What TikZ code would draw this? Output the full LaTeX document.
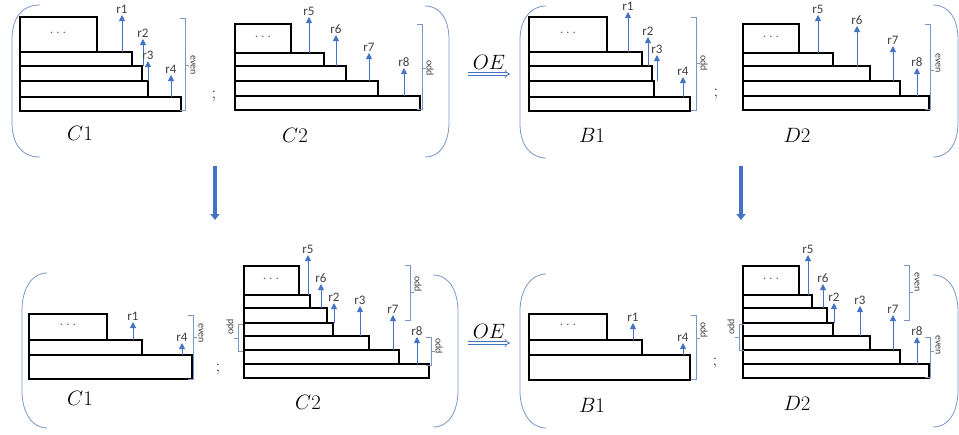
\documentclass[tikz,border=0pt]{standalone}
\usepackage{fontspec}
\setsansfont{Carlito}
\usetikzlibrary{arrows.meta}

\definecolor{arrblue}{HTML}{4472C4}
\definecolor{brkblue}{HTML}{7A97C9}
\definecolor{txtgray}{HTML}{404040}
\definecolor{dotgray}{HTML}{595959}

\tikzset{
  blk/.style={draw=black, line width=1.2pt},
  rarr/.style={draw=arrblue, line width=0.9pt, -{Triangle[width=6pt,length=6pt]}},
  rlbl/.style={above, inner sep=1pt, text=txtgray, font=\sffamily\fontsize{13}{13}\selectfont},
  brk/.style={draw=brkblue, line width=0.8pt},
  side/.style={inner sep=0pt, text=txtgray, font=\sffamily\fontsize{10}{10}\selectfont},
  nm/.style={font=\fontsize{20}{24}\selectfont},
  semi/.style={font=\fontsize{17}{17}\selectfont},
  dots/.style={text=dotgray, font=\fontsize{15}{15}\selectfont},
  down/.style={draw=arrblue, line width=3.5pt, -{Triangle[width=9pt,length=6pt]}},
  oe/.style={draw=arrblue, double, double distance=2pt, line width=0.7pt, -{Implies}}
}

\begin{document}
\begin{tikzpicture}[x=1pt,y=-1pt]
  \useasboundingbox (0,0) rectangle (959,434);

  % top left: C1 ; C2
  \draw[brk] (40,5) .. controls (20,5) and (12,20) .. (12,40) -- (12,122) .. controls (12,142) and (20,157) .. (40,157);
  \draw[brk] (425,6) .. controls (441,6) and (449,20) .. (449,40) -- (449,122) .. controls (449,142) and (441,157) .. (425,157);
  \draw[blk] (20,17) rectangle (97,52);
  \node[dots] (c1dots) at (58,33) {$\cdots$};
  \foreach \r/\t/\b in {132/52/66, 142/66/81, 148/81/97, 181/97/111}
    \draw[blk] (20,\t) rectangle (\r,\b);
  \foreach \x/\y/\h/\l in {122/52/15/r1, 143/66/39/r2, 148/81/61/r3, 171/97/75/r4}
    \draw[rarr] (\x,\y) -- (\x,\h) node[rlbl] {\l};
  \draw[blk] (235,24) rectangle (291,53);
  \node[dots] (c2dots) at (263,37) {$\cdots$};
  \foreach \r/\t/\b in {324/53/66, 346/66/81, 378/81/96, 420/96/110}
    \draw[blk] (235,\t) rectangle (\r,\b);
  \foreach \x/\y/\h/\l in {309/53/17/r5, 336/66/35/r6, 369/81/53/r7, 404/96/68/r8}
    \draw[rarr] (\x,\y) -- (\x,\h) node[rlbl] {\l};
  \node[semi] (semi1) at (214,96) {;};
  \node[nm] (c1) at (80,133) {$C1$};
  \node[nm] (c2) at (295,135) {$C2$};

  % top right: B1 ; D2
  \draw[brk] (546,6) .. controls (530,6) and (520,20) .. (520,40) -- (520,124) .. controls (520,144) and (530,158) .. (546,158);
  \draw[brk] (933,5) .. controls (950,5) and (958,20) .. (958,40) -- (958,122) .. controls (958,142) and (950,157) .. (933,157);
  \draw[blk] (529,17) rectangle (607,52);
  \node[dots] (b1dots) at (568,33) {$\cdots$};
  \foreach \r/\t/\b in {642/52/66, 652/66/81, 654/81/97, 690/97/111}
    \draw[blk] (529,\t) rectangle (\r,\b);
  \foreach \x/\y/\h/\l in {628/52/12/r1, 648/66/37/r2, 657/81/55/r3, 683/97/77/r4}
    \draw[rarr] (\x,\y) -- (\x,\h) node[rlbl] {\l};
  \draw[blk] (743,24) rectangle (799,53);
  \node[dots] (d2dots) at (771,37) {$\cdots$};
  \foreach \r/\t/\b in {833/53/66, 870/66/81, 900/81/96, 929/96/110}
    \draw[blk] (743,\t) rectangle (\r,\b);
  \foreach \x/\y/\h/\l in {818/53/15/r5, 857/66/26/r6, 893/81/46/r7, 917/96/68/r8}
    \draw[rarr] (\x,\y) -- (\x,\h) node[rlbl] {\l};
  \node[semi] (semi2) at (716,94) {;};
  \node[nm] (b1) at (592,135) {$B1$};
  \node[nm] (d2) at (797,135) {$D2$};

  % bottom left: C1 ; C2
  \draw[brk] (47,273) .. controls (31,273) and (22,290) .. (22,310) -- (22,391) .. controls (22,411) and (31,428) .. (47,428);
  \draw[brk] (433,275) .. controls (450,275) and (458,292) .. (458,312) -- (458,390) .. controls (458,410) and (450,427) .. (433,427);
  \draw[blk] (29,314) rectangle (107,340);
  \node[dots] (c1bdots) at (68,325) {$\cdots$};
  \foreach \r/\t/\b in {142/340/355, 192/355/379}
    \draw[blk] (29,\t) rectangle (\r,\b);
  \foreach \x/\y/\h/\l in {133/340/322/r1, 182/355/343/r4}
    \draw[rarr] (\x,\y) -- (\x,\h) node[rlbl] {\l};
  \draw[blk] (244,266) rectangle (299,295);
  \node[dots] (c2bdots) at (271,279) {$\cdots$};
  \foreach \r/\t/\b in {310/295/308, 327/308/323, 333/323/336, 369/336/350, 399/350/364, 429/364/378}
    \draw[blk] (244,\t) rectangle (\r,\b);
  \foreach \x/\y/\h/\l in {308/295/255/r5, 321/308/284/r6, 334/323/303/r2, 360/336/306/r3, 393/350/315/r7, 417/364/337/r8}
    \draw[rarr] (\x,\y) -- (\x,\h) node[rlbl] {\l};
  \node[semi] (semi3) at (218,369) {;};
  \node[nm] (c1b) at (80,398) {$C1$};
  \node[nm] (c2b) at (308,402) {$C2$};

  % bottom right: B1 ; D2
  \draw[brk] (546,274) .. controls (530,274) and (520,291) .. (520,311) -- (520,391) .. controls (520,411) and (530,428) .. (546,428);
  \draw[brk] (933,275) .. controls (950,275) and (958,292) .. (958,312) -- (958,390) .. controls (958,410) and (950,427) .. (933,427);
  \draw[blk] (529,314) rectangle (607,340);
  \node[dots] (b1bdots) at (568,325) {$\cdots$};
  \foreach \r/\t/\b in {642/340/355, 690/355/380}
    \draw[blk] (529,\t) rectangle (\r,\b);
  \foreach \x/\y/\h/\l in {633/340/323/r1, 683/355/343/r4}
    \draw[rarr] (\x,\y) -- (\x,\h) node[rlbl] {\l};
  \draw[blk] (743,266) rectangle (799,295);
  \node[dots] (d2bdots) at (771,279) {$\cdots$};
  \foreach \r/\t/\b in {812/295/308, 827/308/323, 833/323/336, 870/336/350, 900/350/364, 929/364/378}
    \draw[blk] (743,\t) rectangle (\r,\b);
  \foreach \x/\y/\h/\l in {808/295/255/r5, 823/308/284/r6, 834/323/303/r2, 860/336/306/r3, 893/350/315/r7, 917/364/337/r8}
    \draw[rarr] (\x,\y) -- (\x,\h) node[rlbl] {\l};
  \node[semi] (semi4) at (715,363) {;};
  \node[nm] (b1b) at (592,405) {$B1$};
  \node[nm] (d2b) at (797,403) {$D2$};

  % even / odd brackets, opening left
  \foreach \x/\t/\b/\m/\l/\ly in {185/18/110/65/even/65, 422/24/109/68/odd/68,
      696/17/110/63/odd/63, 930/24/109/70/even/63,
      193/315/379/337/even/333, 410/265/320/292/odd/284, 431/337/365/351/odd/346,
      696/315/379/338/odd/330, 909/265/320/292/even/282, 930/337/377/351/even/345} {
    \draw[brk] (\x-5,\t) -- (\x,\t) -- (\x,\b) -- (\x-5,\b);
    \draw[brk] (\x,\m) -- (\x+4,\m);
    \node[side,rotate=-90] (s\x-\t) at (\x+8,\ly) {\l};
  }
  % odd brackets, opening right
  \foreach \x/\t/\b/\m in {238/324/351/338, 739/324/350/337} {
    \draw[brk] (\x+5,\t) -- (\x,\t) -- (\x,\b) -- (\x+5,\b);
    \draw[brk] (\x,\m) -- (\x-4,\m);
    \node[side,rotate=90] (o\x) at (\x-8,\t+3) {odd};
  }

  % OE steps
  \coordinate (oe1a) at (468,74);  \coordinate (oe1b) at (510,74);
  \coordinate (oe2a) at (468,343); \coordinate (oe2b) at (510,343);
  \draw[oe] (oe1a) -- (oe1b) node[midway,above=1pt,nm] (oe1) {$OE$};
  \draw[oe] (oe2a) -- (oe2b) node[midway,above=1pt,nm] (oe2) {$OE$};

  % downward steps
  \coordinate (dn1a) at (215,166); \coordinate (dn1b) at (215,220);
  \coordinate (dn2a) at (741,166); \coordinate (dn2b) at (741,220);
  \draw[down] (dn1a) -- (dn1b);
  \draw[down] (dn2a) -- (dn2b);
\end{tikzpicture}
\end{document}
